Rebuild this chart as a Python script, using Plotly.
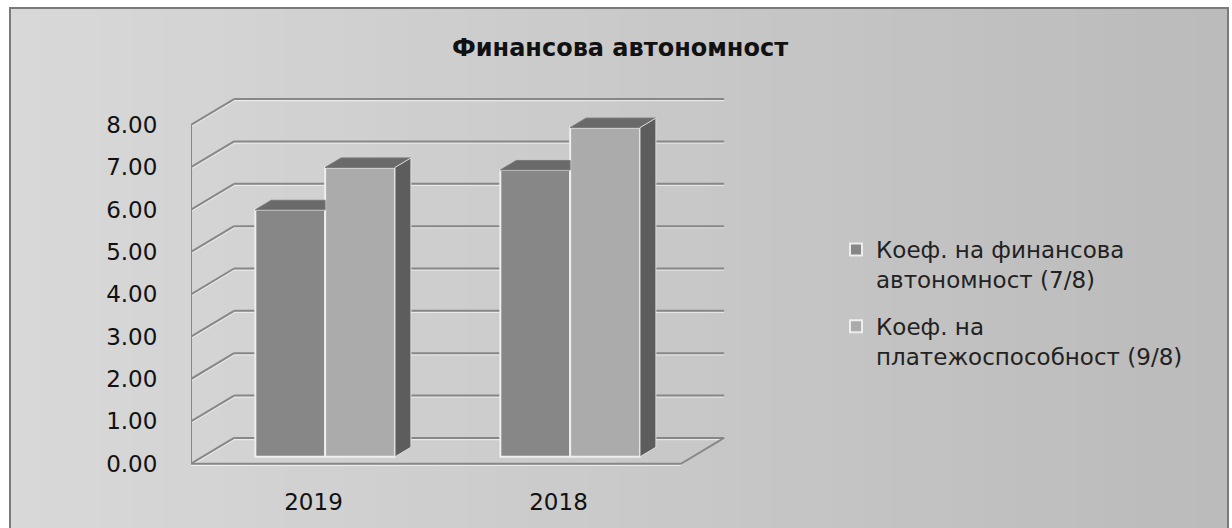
import plotly.graph_objects as go

# ---------------- data ----------------
categories = ["2019", "2018"]
series_names = ["Коеф. на финансова<br>автономност (7/8)",
                "Коеф. на<br>платежоспособност (9/8)"]
autonomy = [5.83, 6.77]      # Коеф. на финансова автономност (7/8)
solvency = [6.83, 7.77]      # Коеф. на платежоспособност (9/8)
y_ticks = [0, 1, 2, 3, 4, 5, 6, 7, 8]
title_text = "Финансова автономност"

# ---------------- layout constants ----------------
W_FIG, H_FIG = 1232, 528
M_L, M_R, M_T, M_B = 191, 502, 91, 60
X_RANGE = [-0.5, 1.7]
Y_RANGE = [-0.1, 8.8]
X0, X1 = -0.5, 1.5          # front floor extent (category units)
DX, DY = 0.176, 0.61        # wall depth offset (x units, y units)
BAR_D0, BAR_D1 = 0.27, 0.64 # bar depth (fraction of wall depth)
BAR_W = 0.285

FRONT_COLORS = ["#878787", "#ababab"]
TOP_COLOR = "#6a6a6a"
SIDE_COLOR = "#5d5d5d"
GRID_COLOR = "#878787"
FONT = "DejaVu Sans"

PW = W_FIG - M_L - M_R
PH = H_FIG - M_T - M_B


def px_x(px):
    return (px - M_L) / PW


def px_y(py):
    return (H_FIG - M_B - py) / PH


fig = go.Figure()

# ---------------- bars (front faces) ----------------
series = [autonomy, solvency]
n_s = len(series)
base = DY * BAR_D0
shift = DX * BAR_D0
ddx = DX * (BAR_D1 - BAR_D0)
ddy = DY * (BAR_D1 - BAR_D0)

bar_geo = []  # (xl, xr, top) per series per category
for k, vals in enumerate(series):
    xs = [i + (k - (n_s - 1) / 2) * BAR_W + shift for i in range(len(categories))]
    fig.add_trace(go.Bar(
        x=xs, y=vals, base=[base] * len(vals), width=BAR_W,
        name=series_names[k], legendgroup=f"g{k}",
        marker=dict(color=FRONT_COLORS[k], line=dict(color="#eeeeee", width=2)),
        hoverinfo="skip",
    ))
    bar_geo.append([(x - BAR_W / 2, x + BAR_W / 2, base + v) for x, v in zip(xs, vals)])

# ---------------- top & side faces ----------------
for k in range(n_s):
    for i in range(len(categories)):
        xl, xr, top = bar_geo[k][i]
        neighbour_taller = k + 1 < n_s and bar_geo[k + 1][i][2] >= top
        if neighbour_taller:
            tx = [xl, xl + ddx, xr, xr, xl]
            ty = [top, top + ddy, top + ddy, top, top]
        else:
            tx = [xl, xl + ddx, xr + ddx, xr, xl]
            ty = [top, top + ddy, top + ddy, top, top]
        fig.add_trace(go.Scatter(x=tx, y=ty, fill="toself", fillcolor=TOP_COLOR,
                                 mode="lines", line=dict(color="#7a7a7a", width=1),
                                 showlegend=False, hoverinfo="skip"))
        if not neighbour_taller:
            sx = [xr, xr + ddx, xr + ddx, xr, xr]
            sy = [base, base + ddy, top + ddy, top, base]
            fig.add_trace(go.Scatter(x=sx, y=sy, fill="toself", fillcolor=SIDE_COLOR,
                                     mode="lines", line=dict(color="#dddddd", width=1),
                                     showlegend=False, hoverinfo="skip"))

# ---------------- background & walls (shapes) ----------------
shapes = []
n_strip = 40
fx0, fx1, fy0 = 10, 1228, 8
c0, c1 = 0xd8, 0xbb
for s in range(n_strip):
    a = fx0 + (fx1 - fx0) * s / n_strip
    b = fx0 + (fx1 - fx0) * (s + 1) / n_strip + 1
    c = int(round(c0 + (c1 - c0) * s / (n_strip - 1)))
    col = f"rgb({c},{c},{c})"
    shapes.append(dict(type="rect", xref="paper", yref="paper", layer="below",
                       x0=px_x(a), x1=px_x(min(b, fx1)), y0=px_y(H_FIG + 5), y1=px_y(fy0),
                       fillcolor=col, line=dict(width=0)))
shapes.append(dict(type="rect", xref="paper", yref="paper", layer="below",
                   x0=px_x(fx0), x1=px_x(fx1), y0=px_y(H_FIG + 5), y1=px_y(fy0),
                   fillcolor="rgba(0,0,0,0)", line=dict(color="#7a7a7a", width=2)))


def seg(xa, ya, xb, yb, color=GRID_COLOR, width=2):
    shapes.append(dict(type="line", xref="x", yref="y", layer="below",
                       x0=xa, y0=ya, x1=xb, y1=yb, line=dict(color=color, width=width)))


hl = 0.035
for v in y_ticks:
    seg(X0 + DX, v + DY - hl, X1 + DX, v + DY - hl, "rgba(255,255,255,0.55)", 1.5)
    seg(X0, v - hl, X0 + DX, v + DY - hl, "rgba(255,255,255,0.55)", 1.5)
    seg(X0 + DX, v + DY, X1 + DX, v + DY)
    seg(X0, v, X0 + DX, v + DY)
seg(X0, 0, X0, max(y_ticks))
seg(X0, -hl, X1, -hl, "rgba(255,255,255,0.6)", 1.5)
seg(X0, 0, X1, 0)
seg(X1, 0, X1 + DX, DY)

fig.update_layout(
    width=W_FIG, height=H_FIG,
    margin=dict(l=M_L, r=M_R, t=M_T, b=M_B, pad=0),
    paper_bgcolor="white", plot_bgcolor="rgba(0,0,0,0)",
    barmode="overlay",
    shapes=shapes,
    title=dict(text=title_text, x=620 / W_FIG, xref="container", xanchor="center",
               y=1 - 48 / H_FIG, yref="container", yanchor="middle",
               font=dict(family=FONT, size=24, color="#111111", weight="bold")),
    xaxis=dict(range=X_RANGE, showgrid=False, zeroline=False, showline=False,
               tickvals=list(range(len(categories))), ticktext=categories,
               ticks="outside", ticklen=13, tickcolor="rgba(0,0,0,0)",
               tickfont=dict(family=FONT, size=23, color="#111111")),
    yaxis=dict(range=Y_RANGE, showgrid=False, zeroline=False, showline=False,
               tickvals=y_ticks, tickformat=".2f",
               ticks="outside", ticklen=28, tickcolor="rgba(0,0,0,0)",
               tickfont=dict(family=FONT, size=23, color="#111111")),
    legend=dict(x=px_x(836), xanchor="left", y=px_y(228), yanchor="top",
                bgcolor="rgba(0,0,0,0)", valign="top", tracegroupgap=14,
                font=dict(family=FONT, size=23, color="#222222")),
    showlegend=True,
)

fig.write_html("out.html")
